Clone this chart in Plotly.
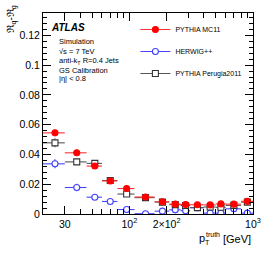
import plotly.graph_objects as go

# Bin edges in pT (GeV) and bin centres
bin_edges = [20, 30, 45, 60, 80, 110, 160, 210, 260, 310, 400, 500, 600, 800, 1000]
pt = [(a + b) / 2 for a, b in zip(bin_edges[:-1], bin_edges[1:])]
err_lo = [c - a for c, a in zip(pt, bin_edges[:-1])]
err_hi = [b - c for c, b in zip(pt, bin_edges[1:])]

pythia_mc11 = [0.0545, 0.0411, 0.0322, 0.0222, 0.0171, 0.0114, 0.0082, 0.0066,
               0.0064, 0.0062, 0.0061, 0.0068, 0.0066, 0.0085]
pythia_mc11_err = [0.0015, 0.0012, 0.0012, 0.0010, 0.0010, 0.0008, 0.0008, 0.0008,
                   0.0008, 0.0008, 0.0008, 0.0008, 0.0008, 0.0010]
herwig = [0.0337, 0.0178, 0.0113, 0.0084, 0.0030, 0.0002, 0.0019, 0.0028,
          0.0022, 0.0042, 0.0006, 0.0006, 0.0035, 0.0006]
herwig_err = [0.0030, 0.0025, 0.0012, 0.0010, 0.0010, 0.0008, 0.0008, 0.0008,
              0.0008, 0.0010, 0.0008, 0.0008, 0.0010, 0.0008]
perugia = [0.0478, 0.0350, 0.0340, 0.0225, 0.0134, 0.0110, 0.0080, 0.0063,
           0.0057, 0.0043, 0.0047, 0.0045, 0.0058, 0.0080]
perugia_err = [0.0030, 0.0020, 0.0015, 0.0010, 0.0012, 0.0008, 0.0008, 0.0008,
               0.0008, 0.0008, 0.0008, 0.0008, 0.0008, 0.0010]

series = [
    ("HERWIG++", herwig, herwig_err, "#4646ff", "circle", "white", "#4040ff"),
    ("PYTHIA Perugia2011", perugia, perugia_err, "#555555", "square", "white", "#333333"),
    ("PYTHIA MC11", pythia_mc11, pythia_mc11_err, "#ff3030", "circle", "#ff0000", "#ff0000"),
]
legend_order = ["PYTHIA MC11", "HERWIG++", "PYTHIA Perugia2011"]

FONT = "Liberation Sans, Arial, sans-serif"
fig = go.Figure()

for name, vals, errs, lc, sym, fill, mlc in series:
    fig.add_trace(go.Scatter(
        x=pt, y=vals, mode="markers", name=name, showlegend=False,
        marker=dict(symbol=sym, size=6, color=fill, line=dict(color=mlc, width=1.1)),
        error_x=dict(type="data", symmetric=False, array=err_hi, arrayminus=err_lo,
                     color=lc, thickness=1.1, width=0),
        error_y=dict(type="data", array=errs, color=lc, thickness=1.1, width=0),
    ))

# legend-only traces
for i, lname in enumerate(legend_order):
    for name, vals, errs, lc, sym, fill, mlc in series:
        if name == lname:
            fig.add_trace(go.Scatter(
                x=[None], y=[None], mode="lines+markers", name=name,
                legendgroup=f"g{i}", legendrank=i + 1,
                marker=dict(symbol=sym, size=6, color=fill, line=dict(color=mlc, width=1.1)),
                line=dict(color=lc, width=1.1),
            ))

minor_x = [v * d for d in (10, 100) for v in range(2, 10) if 20 <= v * d <= 1000]

axis_common = dict(showline=True, linecolor="black", linewidth=1, mirror="allticks",
                   ticks="inside", tickcolor="black", showgrid=False, zeroline=False,
                   ticklabeloverflow="allow",
                   tickfont=dict(family=FONT, size=10.5, color="black"))

fig.update_layout(
    width=266, height=255,
    margin=dict(l=43, r=13, t=13, b=41, autoexpand=False),
    paper_bgcolor="white", plot_bgcolor="white",
    font=dict(family=FONT, color="black"),
    xaxis=dict(type="log", range=[1.30103, 3.0], automargin=False,
               tickmode="array", tickvals=[30, 100, 200, 1000],
               ticktext=["30", "10<sup>2</sup>", "2×10<sup>2</sup>", "10<sup>3</sup>"],
               ticklen=8,
               minor=dict(tickmode="array", tickvals=minor_x, ticks="inside",
                          ticklen=5, tickcolor="black"),
               **axis_common),
    yaxis=dict(range=[0, 0.135], tickmode="linear", tick0=0, dtick=0.02,
               ticklen=8, tickformat="~g", automargin=False,
               minor=dict(dtick=0.004, ticks="inside", ticklen=4, tickcolor="black"),
               **axis_common),
    legend=dict(x=0.44, y=0.99, xanchor="left", yanchor="top",
                bgcolor="rgba(0,0,0,0)", font=dict(family=FONT, size=7),
                traceorder="grouped", tracegroupgap=3, itemwidth=30),
)

def px(xp):
    return (xp - 43) / 210.0

def py(yp):
    return (214 - yp) / 201.0

annos = [
    dict(text="<b><i>ATLAS</i></b>", x=px(49), y=py(27), size=10),
    dict(text="Simulation", x=px(57), y=py(41), size=7.5),
    dict(text="√s = 7 TeV", x=px(57), y=py(51), size=7.5),
    dict(text="anti-k<sub>T</sub> R=0.4 Jets", x=px(57), y=py(61), size=7.5),
    dict(text="GS Calibration", x=px(57), y=py(70), size=7.5),
    dict(text="|η| < 0.8", x=px(57), y=py(79), size=7.5),
]
for a in annos:
    fig.add_annotation(text=a["text"], x=a["x"], y=a["y"], xref="paper", yref="paper",
                       xanchor="left", yanchor="middle", showarrow=False,
                       font=dict(family=FONT, size=a["size"], color="black"))

# y-axis title
fig.add_annotation(text="ℜ<sub>q</sub>-ℜ<sub>g</sub>", x=px(11), y=py(4), xref="paper", yref="paper",
                   xanchor="center", yanchor="top", textangle=-90, showarrow=False,
                   font=dict(family=FONT, size=10, color="black"))
# x-axis title
fig.add_annotation(text="p", x=px(197), y=py(238), xref="paper", yref="paper",
                   xanchor="left", yanchor="middle", showarrow=False,
                   font=dict(family=FONT, size=11, color="black"))
fig.add_annotation(text="truth", x=px(204), y=py(234), xref="paper", yref="paper",
                   xanchor="left", yanchor="middle", showarrow=False,
                   font=dict(family=FONT, size=7, color="black"))
fig.add_annotation(text="T", x=px(203), y=py(243), xref="paper", yref="paper",
                   xanchor="left", yanchor="middle", showarrow=False,
                   font=dict(family=FONT, size=7, color="black"))
fig.add_annotation(text="[GeV]", x=px(253), y=py(239), xref="paper", yref="paper",
                   xanchor="right", yanchor="middle", showarrow=False,
                   font=dict(family=FONT, size=11, color="black"))

fig.write_html("out.html", config={"displayModeBar": False},
               post_script="document.body.style.margin='0';document.body.style.padding='0';")
